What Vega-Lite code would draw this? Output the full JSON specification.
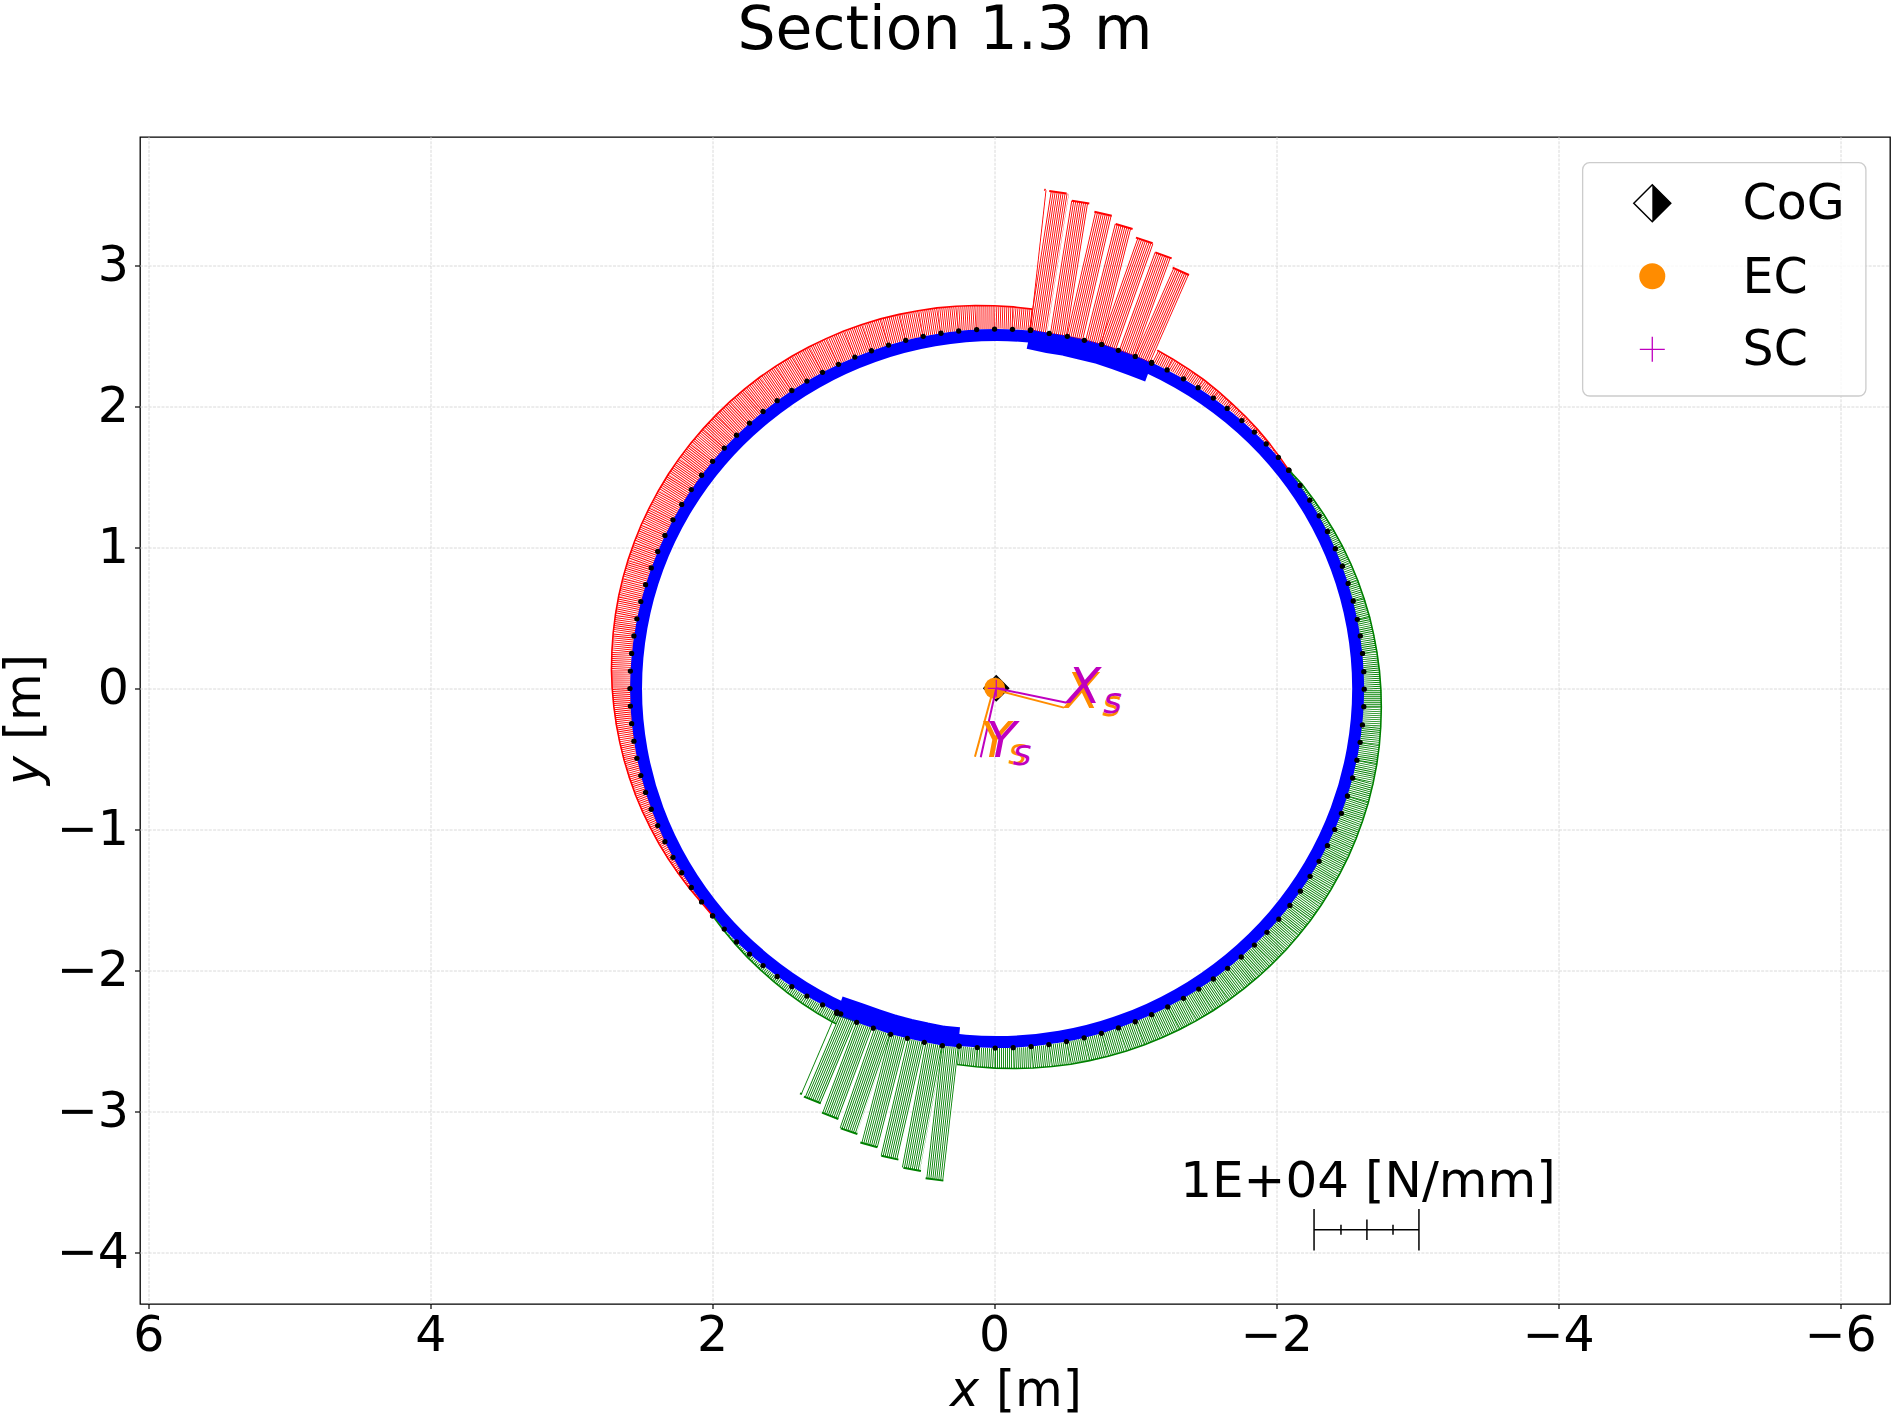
{"$schema":"https://vega.github.io/schema/vega-lite/v6.json","width":1750,"height":1167,"autosize":{"type":"none"},"padding":{"left":140,"top":137,"right":3,"bottom":109},"background":"white","title":{"text":"Section 1.3 m","font":"DejaVu Sans","fontSize":60,"fontWeight":"normal","color":"black","anchor":"middle","dx":-70,"offset":75},"config":{"view":{"stroke":"black","strokeWidth":1.3},"axis":{"domain":false,"translate":0,"labelFont":"DejaVu Sans","labelFontSize":49,"labelColor":"black","tickColor":"black","tickSize":5,"tickWidth":1.2,"gridColor":"#d0d0d0","gridDash":[3,1.3],"gridWidth":0.8,"title":null,"labelOverlap":false,"labelFlush":false}},
"datasets":{
"ring":[{"i":0,"x":-2.578,"y":0.005},{"i":1,"x":-2.539,"y":0.44},{"i":2,"x":-2.424,"y":0.862},{"i":3,"x":-2.235,"y":1.259},{"i":4,"x":-1.979,"y":1.617},{"i":5,"x":-1.663,"y":1.925},{"i":6,"x":-1.298,"y":2.176},{"i":7,"x":-0.893,"y":2.361},{"i":8,"x":-0.462,"y":2.474},{"i":9,"x":-0.017,"y":2.512},{"i":10,"x":0.428,"y":2.474},{"i":11,"x":0.859,"y":2.361},{"i":12,"x":1.264,"y":2.176},{"i":13,"x":1.629,"y":1.925},{"i":14,"x":1.945,"y":1.617},{"i":15,"x":2.201,"y":1.259},{"i":16,"x":2.39,"y":0.862},{"i":17,"x":2.505,"y":0.44},{"i":18,"x":2.544,"y":0.005},{"i":19,"x":2.505,"y":-0.43},{"i":20,"x":2.39,"y":-0.852},{"i":21,"x":2.201,"y":-1.249},{"i":22,"x":1.945,"y":-1.607},{"i":23,"x":1.629,"y":-1.915},{"i":24,"x":1.264,"y":-2.166},{"i":25,"x":0.859,"y":-2.351},{"i":26,"x":0.428,"y":-2.464},{"i":27,"x":-0.017,"y":-2.502},{"i":28,"x":-0.462,"y":-2.464},{"i":29,"x":-0.893,"y":-2.351},{"i":30,"x":-1.298,"y":-2.166},{"i":31,"x":-1.663,"y":-1.915},{"i":32,"x":-1.979,"y":-1.607},{"i":33,"x":-2.235,"y":-1.249},{"i":34,"x":-2.424,"y":-0.852},{"i":35,"x":-2.539,"y":-0.43}],
"sparCaps":[{"c":"top","i":0,"x":-0.242,"y":2.484},{"c":"top","i":1,"x":-0.378,"y":2.454},{"c":"top","i":2,"x":-0.501,"y":2.435},{"c":"top","i":3,"x":-0.619,"y":2.406},{"c":"top","i":4,"x":-0.737,"y":2.378},{"c":"top","i":5,"x":-0.853,"y":2.338},{"c":"top","i":6,"x":-0.971,"y":2.295},{"c":"top","i":7,"x":-1.092,"y":2.25},{"c":"bot","i":0,"x":1.102,"y":-2.246},{"c":"bot","i":1,"x":0.951,"y":-2.298},{"c":"bot","i":2,"x":0.837,"y":-2.338},{"c":"bot","i":3,"x":0.717,"y":-2.378},{"c":"bot","i":4,"x":0.603,"y":-2.407},{"c":"bot","i":5,"x":0.487,"y":-2.433},{"c":"bot","i":6,"x":0.364,"y":-2.457},{"c":"bot","i":7,"x":0.253,"y":-2.468}],
"nodes":[
{"i":0,"g":"r1","s":"T","nx":-0.253,"ny":2.545,"mx":-0.26,"my":2.62,"ox":-0.267,"oy":2.696,"q":2047},
{"i":1,"g":"r1","s":"T","nx":-0.126,"ny":2.553,"mx":-0.129,"my":2.633,"ox":-0.133,"oy":2.712,"q":2135},
{"i":2,"g":"r1","s":"T","nx":0.001,"ny":2.555,"mx":0.002,"my":2.638,"ox":0.003,"oy":2.72,"q":2220},
{"i":3,"g":"r1","s":"T","nx":0.128,"ny":2.551,"mx":0.133,"my":2.637,"ox":0.138,"oy":2.722,"q":2299},
{"i":4,"g":"r1","s":"T","nx":0.255,"ny":2.541,"mx":0.264,"my":2.629,"ox":0.274,"oy":2.717,"q":2373},
{"i":5,"g":"r1","s":"T","nx":0.381,"ny":2.525,"mx":0.395,"my":2.615,"ox":0.409,"oy":2.705,"q":2440},
{"i":6,"g":"r1","s":"T","nx":0.507,"ny":2.503,"mx":0.525,"my":2.594,"ox":0.544,"oy":2.685,"q":2503},
{"i":7,"g":"r1","s":"T","nx":0.631,"ny":2.475,"mx":0.654,"my":2.567,"ox":0.678,"oy":2.659,"q":2558},
{"i":8,"g":"r1","s":"T","nx":0.753,"ny":2.441,"mx":0.782,"my":2.534,"ox":0.81,"oy":2.627,"q":2609},
{"i":9,"g":"r1","s":"T","nx":0.874,"ny":2.401,"mx":0.907,"my":2.494,"ox":0.941,"oy":2.587,"q":2652},
{"i":10,"g":"r1","s":"T","nx":0.992,"ny":2.356,"mx":1.031,"my":2.448,"ox":1.07,"oy":2.541,"q":2690},
{"i":11,"g":"r1","s":"T","nx":1.108,"ny":2.305,"mx":1.152,"my":2.396,"ox":1.196,"oy":2.487,"q":2721},
{"i":12,"g":"r1","s":"T","nx":1.221,"ny":2.248,"mx":1.27,"my":2.338,"ox":1.319,"oy":2.428,"q":2746},
{"i":13,"g":"r1","s":"T","nx":1.332,"ny":2.186,"mx":1.385,"my":2.274,"ox":1.439,"oy":2.362,"q":2764},
{"i":14,"g":"r1","s":"T","nx":1.439,"ny":2.119,"mx":1.497,"my":2.204,"ox":1.555,"oy":2.29,"q":2774},
{"i":15,"g":"r1","s":"T","nx":1.543,"ny":2.047,"mx":1.605,"my":2.13,"ox":1.667,"oy":2.213,"q":2780},
{"i":16,"g":"r1","s":"T","nx":1.643,"ny":1.97,"mx":1.709,"my":2.05,"ox":1.775,"oy":2.129,"q":2778},
{"i":17,"g":"r1","s":"T","nx":1.739,"ny":1.888,"mx":1.808,"my":1.964,"ox":1.878,"oy":2.04,"q":2769},
{"i":18,"g":"r1","s":"T","nx":1.831,"ny":1.802,"mx":1.904,"my":1.874,"ox":1.976,"oy":1.946,"q":2754},
{"i":19,"g":"r1","s":"T","nx":1.918,"ny":1.711,"mx":1.994,"my":1.779,"ox":2.069,"oy":1.847,"q":2733},
{"i":20,"g":"r1","s":"T","nx":2.001,"ny":1.617,"mx":2.079,"my":1.68,"ox":2.157,"oy":1.744,"q":2705},
{"i":21,"g":"r1","s":"T","nx":2.079,"ny":1.518,"mx":2.159,"my":1.577,"ox":2.239,"oy":1.636,"q":2670},
{"i":22,"g":"r1","s":"T","nx":2.152,"ny":1.416,"mx":2.233,"my":1.47,"ox":2.315,"oy":1.525,"q":2628},
{"i":23,"g":"r1","s":"T","nx":2.22,"ny":1.311,"mx":2.302,"my":1.36,"ox":2.385,"oy":1.409,"q":2581},
{"i":24,"g":"r1","s":"T","nx":2.282,"ny":1.202,"mx":2.365,"my":1.246,"ox":2.448,"oy":1.291,"q":2527},
{"i":25,"g":"r1","s":"T","nx":2.339,"ny":1.091,"mx":2.422,"my":1.13,"ox":2.506,"oy":1.169,"q":2468},
{"i":26,"g":"r1","s":"T","nx":2.39,"ny":0.977,"mx":2.473,"my":1.011,"ox":2.556,"oy":1.045,"q":2402},
{"i":27,"g":"r1","s":"T","nx":2.436,"ny":0.861,"mx":2.518,"my":0.89,"ox":2.6,"oy":0.919,"q":2331},
{"i":28,"g":"r1","s":"T","nx":2.476,"ny":0.742,"mx":2.556,"my":0.766,"ox":2.637,"oy":0.79,"q":2255},
{"i":29,"g":"r1","s":"T","nx":2.51,"ny":0.622,"mx":2.588,"my":0.641,"ox":2.667,"oy":0.661,"q":2173},
{"i":30,"g":"r1","s":"T","nx":2.538,"ny":0.5,"mx":2.614,"my":0.515,"ox":2.69,"oy":0.53,"q":2086},
{"i":31,"g":"r1","s":"T","nx":2.559,"ny":0.378,"mx":2.632,"my":0.388,"ox":2.706,"oy":0.399,"q":1993},
{"i":32,"g":"r1","s":"T","nx":2.575,"ny":0.254,"mx":2.645,"my":0.261,"ox":2.715,"oy":0.268,"q":1896},
{"i":33,"g":"r1","s":"T","nx":2.584,"ny":0.129,"mx":2.651,"my":0.133,"ox":2.718,"oy":0.136,"q":1794},
{"i":34,"g":"r1","s":"T","nx":2.587,"ny":0.005,"mx":2.65,"my":0.005,"ox":2.713,"oy":0.005,"q":1688},
{"i":35,"g":"r1","s":"T","nx":2.584,"ny":-0.119,"mx":2.643,"my":-0.122,"ox":2.701,"oy":-0.125,"q":1578},
{"i":36,"g":"r1","s":"T","nx":2.575,"ny":-0.244,"mx":2.629,"my":-0.249,"ox":2.683,"oy":-0.255,"q":1465},
{"i":37,"g":"r1","s":"T","nx":2.559,"ny":-0.368,"mx":2.609,"my":-0.375,"ox":2.658,"oy":-0.382,"q":1348},
{"i":38,"g":"r1","s":"T","nx":2.538,"ny":-0.49,"mx":2.583,"my":-0.499,"ox":2.627,"oy":-0.508,"q":1227},
{"i":39,"g":"r1","s":"T","nx":2.51,"ny":-0.612,"mx":2.549,"my":-0.622,"ox":2.589,"oy":-0.632,"q":1104},
{"i":40,"g":"r1","s":"T","nx":2.476,"ny":-0.732,"mx":2.511,"my":-0.742,"ox":2.546,"oy":-0.753,"q":978},
{"i":41,"g":"r1","s":"T","nx":2.436,"ny":-0.851,"mx":2.466,"my":-0.861,"ox":2.496,"oy":-0.872,"q":850},
{"i":42,"g":"r1","s":"T","nx":2.39,"ny":-0.967,"mx":2.415,"my":-0.977,"ox":2.44,"oy":-0.987,"q":720},
{"i":43,"g":"r1","s":"T","nx":2.339,"ny":-1.081,"mx":2.359,"my":-1.09,"ox":2.379,"oy":-1.1,"q":587},
{"i":44,"g":"r1","s":"T","nx":2.282,"ny":-1.192,"mx":2.297,"my":-1.2,"ox":2.312,"oy":-1.208,"q":454},
{"i":45,"g":"r1","s":"T","nx":2.22,"ny":-1.301,"mx":2.23,"my":-1.307,"ox":2.24,"oy":-1.313,"q":320},
{"i":46,"g":"r1","s":"T","nx":2.152,"ny":-1.406,"mx":2.158,"my":-1.41,"ox":2.163,"oy":-1.414,"q":184},
{"i":47,"g":"r1","s":"T","nx":2.079,"ny":-1.508,"mx":2.081,"my":-1.509,"ox":2.082,"oy":-1.51,"q":48},
{"i":48,"g":"r1","s":"T","nx":2.001,"ny":-1.607,"mx":2.001,"my":-1.607,"ox":2.001,"oy":-1.607,"q":0},
{"i":0,"g":"g1","s":"C","nx":2.001,"ny":-1.607,"mx":2.001,"my":-1.607,"ox":2.001,"oy":-1.607,"q":0},
{"i":1,"g":"g1","s":"C","nx":1.918,"ny":-1.701,"mx":1.921,"my":-1.704,"ox":1.924,"oy":-1.707,"q":113},
{"i":2,"g":"g1","s":"C","nx":1.831,"ny":-1.792,"mx":1.837,"my":-1.798,"ox":1.843,"oy":-1.804,"q":234},
{"i":3,"g":"g1","s":"C","nx":1.739,"ny":-1.878,"mx":1.748,"my":-1.888,"ox":1.757,"oy":-1.898,"q":355},
{"i":4,"g":"g1","s":"C","nx":1.643,"ny":-1.96,"mx":1.654,"my":-1.974,"ox":1.665,"oy":-1.987,"q":474},
{"i":5,"g":"g1","s":"C","nx":1.543,"ny":-2.037,"mx":1.556,"my":-2.054,"ox":1.569,"oy":-2.072,"q":592},
{"i":6,"g":"g1","s":"C","nx":1.439,"ny":-2.109,"mx":1.454,"my":-2.131,"ox":1.469,"oy":-2.153,"q":710},
{"i":7,"g":"g1","s":"C","nx":1.332,"ny":-2.176,"mx":1.348,"my":-2.203,"ox":1.364,"oy":-2.229,"q":826},
{"i":8,"g":"g1","s":"C","nx":1.221,"ny":-2.238,"mx":1.238,"my":-2.269,"ox":1.255,"oy":-2.3,"q":939},
{"i":9,"g":"g1","s":"C","nx":1.12,"ny":-2.289,"mx":1.137,"my":-2.324,"ox":1.154,"oy":-2.358,"q":1038},
{"i":10,"g":"g1","s":"C","nx":1.092,"ny":-2.302,"mx":1.108,"my":-2.338,"ox":1.125,"oy":-2.372,"q":1050},
{"i":0,"g":"g2","s":"C","nx":0.253,"ny":-2.531,"mx":0.26,"my":-2.596,"ox":0.267,"oy":-2.661,"q":1746},
{"i":1,"g":"g2","s":"C","nx":0.124,"ny":-2.541,"mx":0.128,"my":-2.609,"ox":0.131,"oy":-2.677,"q":1832},
{"i":2,"g":"g2","s":"C","nx":-0.003,"ny":-2.545,"mx":-0.003,"my":-2.616,"ox":-0.003,"oy":-2.687,"q":1911},
{"i":3,"g":"g2","s":"C","nx":-0.131,"ny":-2.542,"mx":-0.134,"my":-2.616,"ox":-0.137,"oy":-2.69,"q":1986},
{"i":4,"g":"g2","s":"C","nx":-0.258,"ny":-2.534,"mx":-0.265,"my":-2.611,"ox":-0.272,"oy":-2.686,"q":2057},
{"i":5,"g":"g2","s":"C","nx":-0.384,"ny":-2.52,"mx":-0.395,"my":-2.598,"ox":-0.406,"oy":-2.676,"q":2123},
{"i":6,"g":"g2","s":"C","nx":-0.509,"ny":-2.499,"mx":-0.525,"my":-2.579,"ox":-0.54,"oy":-2.659,"q":2184},
{"i":7,"g":"g2","s":"C","nx":-0.634,"ny":-2.472,"mx":-0.653,"my":-2.553,"ox":-0.673,"oy":-2.634,"q":2239},
{"i":8,"g":"g2","s":"C","nx":-0.757,"ny":-2.44,"mx":-0.781,"my":-2.522,"ox":-0.805,"oy":-2.603,"q":2289},
{"i":9,"g":"g2","s":"C","nx":-0.878,"ny":-2.402,"mx":-0.906,"my":-2.484,"ox":-0.935,"oy":-2.566,"q":2333},
{"i":10,"g":"g2","s":"C","nx":-0.997,"ny":-2.358,"mx":-1.03,"my":-2.439,"ox":-1.063,"oy":-2.522,"q":2372},
{"i":11,"g":"g2","s":"C","nx":-1.113,"ny":-2.308,"mx":-1.151,"my":-2.39,"ox":-1.189,"oy":-2.47,"q":2405},
{"i":12,"g":"g2","s":"C","nx":-1.227,"ny":-2.253,"mx":-1.27,"my":-2.333,"ox":-1.312,"oy":-2.413,"q":2433},
{"i":13,"g":"g2","s":"C","nx":-1.339,"ny":-2.192,"mx":-1.385,"my":-2.271,"ox":-1.431,"oy":-2.35,"q":2455},
{"i":14,"g":"g2","s":"C","nx":-1.447,"ny":-2.126,"mx":-1.497,"my":-2.203,"ox":-1.548,"oy":-2.28,"q":2470},
{"i":15,"g":"g2","s":"C","nx":-1.551,"ny":-2.055,"mx":-1.606,"my":-2.13,"ox":-1.66,"oy":-2.205,"q":2480},
{"i":16,"g":"g2","s":"C","nx":-1.652,"ny":-1.979,"mx":-1.71,"my":-2.051,"ox":-1.768,"oy":-2.123,"q":2484},
{"i":17,"g":"g2","s":"C","nx":-1.749,"ny":-1.899,"mx":-1.811,"my":-1.968,"ox":-1.872,"oy":-2.037,"q":2483},
{"i":18,"g":"g2","s":"C","nx":-1.842,"ny":-1.814,"mx":-1.907,"my":-1.88,"ox":-1.971,"oy":-1.945,"q":2475},
{"i":19,"g":"g2","s":"C","nx":-1.931,"ny":-1.724,"mx":-1.998,"my":-1.787,"ox":-2.065,"oy":-1.849,"q":2460},
{"i":20,"g":"g2","s":"C","nx":-2.015,"ny":-1.631,"mx":-2.085,"my":-1.689,"ox":-2.154,"oy":-1.747,"q":2441},
{"i":21,"g":"g2","s":"C","nx":-2.094,"ny":-1.533,"mx":-2.166,"my":-1.587,"ox":-2.238,"oy":-1.642,"q":2416},
{"i":22,"g":"g2","s":"C","nx":-2.168,"ny":-1.432,"mx":-2.242,"my":-1.482,"ox":-2.315,"oy":-1.532,"q":2385},
{"i":23,"g":"g2","s":"C","nx":-2.237,"ny":-1.327,"mx":-2.311,"my":-1.373,"ox":-2.386,"oy":-1.419,"q":2347},
{"i":24,"g":"g2","s":"C","nx":-2.301,"ny":-1.22,"mx":-2.376,"my":-1.261,"ox":-2.451,"oy":-1.302,"q":2305},
{"i":25,"g":"g2","s":"C","nx":-2.36,"ny":-1.109,"mx":-2.435,"my":-1.146,"ox":-2.511,"oy":-1.182,"q":2257},
{"i":26,"g":"g2","s":"C","nx":-2.412,"ny":-0.995,"mx":-2.488,"my":-1.028,"ox":-2.563,"oy":-1.06,"q":2204},
{"i":27,"g":"g2","s":"C","nx":-2.459,"ny":-0.88,"mx":-2.534,"my":-0.907,"ox":-2.609,"oy":-0.935,"q":2145},
{"i":28,"g":"g2","s":"C","nx":-2.502,"ny":-0.757,"mx":-2.575,"my":-0.78,"ox":-2.65,"oy":-0.804,"q":2079},
{"i":29,"g":"g2","s":"C","nx":-2.539,"ny":-0.629,"mx":-2.612,"my":-0.648,"ox":-2.684,"oy":-0.666,"q":2005},
{"i":30,"g":"g2","s":"C","nx":-2.569,"ny":-0.503,"mx":-2.639,"my":-0.518,"ox":-2.71,"oy":-0.532,"q":1928},
{"i":31,"g":"g2","s":"C","nx":-2.592,"ny":-0.376,"mx":-2.66,"my":-0.387,"ox":-2.728,"oy":-0.397,"q":1846},
{"i":32,"g":"g2","s":"C","nx":-2.608,"ny":-0.253,"mx":-2.673,"my":-0.259,"ox":-2.738,"oy":-0.266,"q":1763},
{"i":33,"g":"g2","s":"C","nx":-2.618,"ny":-0.124,"mx":-2.68,"my":-0.127,"ox":-2.742,"oy":-0.13,"q":1672},
{"i":34,"g":"g2","s":"C","nx":-2.621,"ny":0.001,"mx":-2.68,"my":0.001,"ox":-2.739,"oy":0,"q":1581},
{"i":35,"g":"g2","s":"C","nx":-2.618,"ny":0.125,"mx":-2.673,"my":0.128,"ox":-2.729,"oy":0.13,"q":1485},
{"i":36,"g":"g2","s":"C","nx":-2.609,"ny":0.254,"mx":-2.66,"my":0.259,"ox":-2.711,"oy":0.264,"q":1382},
{"i":37,"g":"g2","s":"C","nx":-2.593,"ny":0.378,"mx":-2.64,"my":0.385,"ox":-2.687,"oy":0.391,"q":1280},
{"i":38,"g":"g2","s":"C","nx":-2.572,"ny":0.496,"mx":-2.615,"my":0.504,"ox":-2.659,"oy":0.513,"q":1178},
{"i":39,"g":"g2","s":"C","nx":-2.543,"ny":0.626,"mx":-2.581,"my":0.636,"ox":-2.619,"oy":0.645,"q":1062},
{"i":40,"g":"g2","s":"C","nx":-2.507,"ny":0.751,"mx":-2.541,"my":0.761,"ox":-2.575,"oy":0.771,"q":947},
{"i":41,"g":"g2","s":"C","nx":-2.466,"ny":0.873,"mx":-2.495,"my":0.884,"ox":-2.524,"oy":0.894,"q":830},
{"i":42,"g":"g2","s":"C","nx":-2.416,"ny":0.997,"mx":-2.44,"my":1.007,"ox":-2.464,"oy":1.018,"q":705},
{"i":43,"g":"g2","s":"C","nx":-2.36,"ny":1.119,"mx":-2.379,"my":1.128,"ox":-2.398,"oy":1.138,"q":580},
{"i":44,"g":"g2","s":"C","nx":-2.301,"ny":1.23,"mx":-2.316,"my":1.238,"ox":-2.331,"oy":1.246,"q":462},
{"i":45,"g":"g2","s":"C","nx":-2.235,"ny":1.341,"mx":-2.246,"my":1.348,"ox":-2.256,"oy":1.354,"q":337},
{"i":46,"g":"g2","s":"C","nx":-2.166,"ny":1.446,"mx":-2.172,"my":1.45,"ox":-2.179,"oy":1.455,"q":216},
{"i":47,"g":"g2","s":"C","nx":-2.086,"ny":1.554,"mx":-2.086,"my":1.554,"ox":-2.086,"oy":1.554,"q":0},
{"i":0,"g":"r2","s":"T","nx":-2.086,"ny":1.554,"mx":-2.086,"my":1.554,"ox":-2.086,"oy":1.554,"q":0},
{"i":1,"g":"r2","s":"T","nx":-2.012,"ny":1.644,"mx":-2.015,"my":1.647,"ox":-2.019,"oy":1.65,"q":126},
{"i":2,"g":"r2","s":"T","nx":-1.926,"ny":1.74,"mx":-1.933,"my":1.746,"ox":-1.941,"oy":1.753,"q":265},
{"i":3,"g":"r2","s":"T","nx":-1.842,"ny":1.824,"mx":-1.853,"my":1.835,"ox":-1.863,"oy":1.845,"q":392},
{"i":4,"g":"r2","s":"T","nx":-1.753,"ny":1.906,"mx":-1.765,"my":1.92,"ox":-1.779,"oy":1.935,"q":521},
{"i":5,"g":"r2","s":"T","nx":-1.649,"ny":1.992,"mx":-1.664,"my":2.012,"ox":-1.679,"oy":2.03,"q":663},
{"i":6,"g":"r2","s":"T","nx":-1.551,"ny":2.065,"mx":-1.568,"my":2.089,"ox":-1.586,"oy":2.113,"q":790},
{"i":7,"g":"r2","s":"T","nx":-1.443,"ny":2.139,"mx":-1.462,"my":2.167,"ox":-1.481,"oy":2.197,"q":924},
{"i":8,"g":"r2","s":"T","nx":-1.339,"ny":2.202,"mx":-1.358,"my":2.236,"ox":-1.378,"oy":2.269,"q":1046},
{"i":9,"g":"r2","s":"T","nx":-1.223,"ny":2.265,"mx":-1.244,"my":2.304,"ox":-1.264,"oy":2.342,"q":1175},
{"i":10,"g":"r2","s":"T","nx":-1.113,"ny":2.318,"mx":-1.133,"my":2.361,"ox":-1.153,"oy":2.404,"q":1282}],
"bigPanels":[
{"s":"T","x":-0.321,"y":3.041,"x2":-0.449,"y2":3.021,"ox":-0.387,"oy":3.534,"ox2":-0.51,"oy2":3.517,"q":13400,"nx":-0.387,"ny":2.524},
{"s":"T","x":-0.468,"y":2.995,"x2":-0.593,"y2":2.975,"ox":-0.548,"oy":3.465,"ox2":-0.671,"oy2":3.446,"q":12820,"nx":-0.515,"ny":2.503},
{"s":"T","x":-0.611,"y":2.945,"x2":-0.733,"y2":2.917,"ox":-0.707,"oy":3.387,"ox2":-0.83,"oy2":3.359,"q":12150,"nx":-0.636,"ny":2.475},
{"s":"T","x":-0.747,"y":2.887,"x2":-0.869,"y2":2.856,"ox":-0.858,"oy":3.3,"ox2":-0.978,"oy2":3.264,"q":11470,"nx":-0.759,"ny":2.446},
{"s":"T","x":-0.88,"y":2.825,"x2":-0.999,"y2":2.783,"ox":-1.002,"oy":3.203,"ox2":-1.12,"oy2":3.163,"q":10670,"nx":-0.877,"ny":2.404},
{"s":"T","x":-1.008,"y":2.751,"x2":-1.126,"y2":2.708,"ox":-1.139,"oy":3.099,"ox2":-1.255,"oy2":3.056,"q":9970,"nx":-0.997,"ny":2.361},
{"s":"T","x":-1.13,"y":2.676,"x2":-1.246,"y2":2.625,"ox":-1.262,"oy":2.99,"ox2":-1.378,"oy2":2.938,"q":9160,"nx":-1.113,"ny":2.312},
{"s":"T","x":-0.306,"y":3.047,"x2":-0.315,"y2":3.046,"ox":-0.352,"oy":3.545,"ox2":-0.36,"oy2":3.54,"q":13300,"nx":-0.255,"ny":2.548},
{"s":"C","x":1.223,"y":-2.6,"x2":1.107,"y2":-2.649,"ox":1.353,"oy":-2.889,"ox2":1.234,"oy2":-2.936,"q":8530,"nx":0.979,"ny":-2.362},
{"s":"C","x":1.102,"y":-2.682,"x2":0.985,"y2":-2.726,"ox":1.225,"oy":-3.003,"ox2":1.109,"oy2":-3.048,"q":9220,"nx":0.861,"ny":-2.404},
{"s":"C","x":0.977,"y":-2.759,"x2":0.856,"y2":-2.801,"ox":1.092,"oy":-3.114,"ox2":0.974,"oy2":-3.154,"q":10020,"nx":0.738,"ny":-2.447},
{"s":"C","x":0.845,"y":-2.831,"x2":0.726,"y2":-2.862,"ox":0.953,"oy":-3.215,"ox2":0.832,"oy2":-3.248,"q":10720,"nx":0.62,"ny":-2.476},
{"s":"C","x":0.712,"y":-2.892,"x2":0.591,"y2":-2.92,"ox":0.804,"oy":-3.308,"ox2":0.683,"oy2":-3.336,"q":11450,"nx":0.499,"ny":-2.504},
{"s":"C","x":0.574,"y":-2.948,"x2":0.447,"y2":-2.972,"ox":0.648,"oy":-3.393,"ox2":0.523,"oy2":-3.417,"q":12100,"nx":0.371,"ny":-2.528},
{"s":"C","x":0.43,"y":-2.998,"x2":0.309,"y2":-3.012,"ox":0.49,"oy":-3.468,"ox2":0.364,"oy2":-3.485,"q":12730,"nx":0.253,"ny":-2.531},
{"s":"C","x":1.251,"y":-2.582,"x2":1.244,"y2":-2.585,"ox":1.381,"oy":-2.866,"ox2":1.367,"oy2":-2.871,"q":8380,"nx":1.121,"ny":-2.298}],
"axesLines":[
{"c":"EC","a":"X","x":0.01,"y":0,"x2":-0.491,"y2":-0.13},{"c":"EC","a":"Y","x":0.01,"y":0,"x2":0.14,"y2":-0.478},
{"c":"SC","a":"X","x":-0.011,"y":0.007,"x2":-0.511,"y2":-0.095},{"c":"SC","a":"Y","x":-0.011,"y":0.007,"x2":0.099,"y2":-0.482}],
"axesText":[
{"c":"EC","t":"X","x":-0.499,"y":-0.135,"sx":-0.763,"sy":-0.189},{"c":"EC","t":"Y","x":0.104,"y":-0.478,"sx":-0.097,"sy":-0.53},
{"c":"SC","t":"X","x":-0.511,"y":-0.099,"sx":-0.77,"sy":-0.166},{"c":"SC","t":"Y","x":0.062,"y":-0.478,"sx":-0.128,"sy":-0.537}],
"scaleBar":[
{"x":-2.265,"x2":-3.009,"y":-3.833,"y2":-3.833},{"x":-2.265,"x2":-2.265,"y":-3.686,"y2":-3.98},{"x":-3.009,"x2":-3.009,"y":-3.686,"y2":-3.98},{"x":-2.64,"x2":-2.64,"y":-3.76,"y2":-3.906},{"x":-2.456,"x2":-2.456,"y":-3.798,"y2":-3.868},{"x":-2.825,"x2":-2.825,"y":-3.798,"y2":-3.868}],
"legendItems":[{"t":"CoG","x":-4.664,"y":3.447,"tx":-5.304,"ty":3.332},{"t":"EC","x":-4.664,"y":2.929,"tx":-5.304,"ty":2.808},{"t":"SC","x":-4.664,"y":2.411,"tx":-5.304,"ty":2.297}]},
"layer":[
{"data":{"name":"ring"},"mark":{"type":"line","interpolate":"cardinal-closed","color":"#0000ff","strokeWidth":12},"encoding":{"x":{"field":"x","type":"quantitative","title":null,"scale":{"domain":[6.062,-6.35],"nice":false,"zero":false},"axis":{"values":[6,4,2,0,-2,-4,-6],"format":"d","labelPadding":3,"title":null}},"y":{"field":"y","type":"quantitative","title":null,"scale":{"domain":[-4.36,3.917],"nice":false,"zero":false},"axis":{"values":[-4,-3,-2,-1,0,1,2,3],"format":"d","labelPadding":6,"title":null}},"order":{"field":"i"}}},
{"data":{"name":"sparCaps"},"mark":{"type":"line","color":"#0000ff","strokeWidth":20,"strokeCap":"butt"},"encoding":{"x":{"field":"x","type":"quantitative","title":null},"y":{"field":"y","type":"quantitative","title":null},"detail":{"field":"c"},"order":{"field":"i"}}},
{"data":{"name":"nodes"},"transform":[{"window":[{"op":"lead","field":"mx","as":"mx2"},{"op":"lead","field":"my","as":"my2"}],"sort":[{"field":"i"}],"groupby":["g"]},{"filter":{"field":"mx2","valid":true}}],"mark":{"type":"rule","strokeDash":[0.9,1.1]},"encoding":{"x":{"field":"mx","type":"quantitative","title":null},"y":{"field":"my","type":"quantitative","title":null},"x2":{"field":"mx2"},"y2":{"field":"my2"},"size":{"field":"q","type":"quantitative","legend":null,"scale":{"domain":[0,10000],"range":[0,105]}},"color":{"field":"s","type":"nominal","legend":null,"scale":{"domain":["T","C","EC","SC"],"range":["#ff0000","#008000","#ff8c00","#bf00bf"]}}}},
{"data":{"name":"bigPanels"},"mark":{"type":"rule","strokeDash":[0.9,1.1]},"encoding":{"x":{"field":"x","type":"quantitative","title":null},"y":{"field":"y","type":"quantitative","title":null},"x2":{"field":"x2"},"y2":{"field":"y2"},"size":{"field":"q","type":"quantitative","legend":null},"color":{"field":"s","type":"nominal","legend":null}}},
{"data":{"name":"bigPanels"},"mark":{"type":"rule","strokeWidth":2},"encoding":{"x":{"field":"ox","type":"quantitative","title":null},"y":{"field":"oy","type":"quantitative","title":null},"x2":{"field":"ox2"},"y2":{"field":"oy2"},"color":{"field":"s","type":"nominal","legend":null}}},
{"data":{"name":"nodes"},"mark":{"type":"line","strokeWidth":1.6},"encoding":{"x":{"field":"ox","type":"quantitative","title":null},"y":{"field":"oy","type":"quantitative","title":null},"detail":{"field":"g"},"order":{"field":"i"},"color":{"field":"s","type":"nominal","legend":null}}},
{"data":{"name":"nodes"},"mark":{"type":"point","filled":true,"opacity":1,"color":"black","size":28},"encoding":{"x":{"field":"nx","type":"quantitative","title":null},"y":{"field":"ny","type":"quantitative","title":null}}},
{"data":{"name":"bigPanels"},"mark":{"type":"point","filled":true,"opacity":1,"color":"black","size":28},"encoding":{"x":{"field":"nx","type":"quantitative","title":null},"y":{"field":"ny","type":"quantitative","title":null}}},
{"data":{"values":[{"x":-0.011,"y":0.007}]},"mark":{"type":"point","shape":"diamond","filled":true,"fill":"white","stroke":"black","strokeWidth":1.5,"opacity":1,"size":610},"encoding":{"x":{"field":"x","type":"quantitative","title":null},"y":{"field":"y","type":"quantitative","title":null}}},
{"data":{"values":[{"x":-0.011,"y":0.007}]},"mark":{"type":"point","shape":"M0,-1L1,0L0,1Z","filled":true,"color":"black","opacity":1,"size":610},"encoding":{"x":{"field":"x","type":"quantitative","title":null},"y":{"field":"y","type":"quantitative","title":null}}},
{"data":{"values":[{"x":0.0,"y":0.007}]},"mark":{"type":"point","shape":"circle","filled":true,"color":"#ff8c00","opacity":1,"size":441},"encoding":{"x":{"field":"x","type":"quantitative","title":null},"y":{"field":"y","type":"quantitative","title":null}}},
{"data":{"name":"axesLines"},"mark":{"type":"rule","strokeWidth":2},"encoding":{"x":{"field":"x","type":"quantitative","title":null},"y":{"field":"y","type":"quantitative","title":null},"x2":{"field":"x2"},"y2":{"field":"y2"},"color":{"field":"c","type":"nominal","legend":null}}},
{"data":{"name":"axesText"},"mark":{"type":"text","font":"DejaVu Sans","fontStyle":"italic","fontSize":50,"align":"left","baseline":"alphabetic"},"encoding":{"x":{"field":"x","type":"quantitative","title":null},"y":{"field":"y","type":"quantitative","title":null},"text":{"field":"t"},"color":{"field":"c","type":"nominal","legend":null}}},
{"data":{"name":"axesText"},"mark":{"type":"text","font":"DejaVu Sans","fontStyle":"italic","fontSize":36,"align":"left","baseline":"alphabetic","text":"s"},"encoding":{"x":{"field":"sx","type":"quantitative","title":null},"y":{"field":"sy","type":"quantitative","title":null},"color":{"field":"c","type":"nominal","legend":null}}},
{"data":{"values":[{"x":-0.011,"y":0.007}]},"mark":{"type":"point","shape":"M-1,0L1,0M0,-1L0,1","stroke":"#bf00bf","strokeWidth":1.2,"filled":false,"opacity":1,"size":289},"encoding":{"x":{"field":"x","type":"quantitative","title":null},"y":{"field":"y","type":"quantitative","title":null}}},
{"data":{"name":"scaleBar"},"mark":{"type":"rule","color":"black","strokeWidth":1.5},"encoding":{"x":{"field":"x","type":"quantitative","title":null},"y":{"field":"y","type":"quantitative","title":null},"x2":{"field":"x2"},"y2":{"field":"y2"}}},
{"data":{"values":[{"t":"1E+04 [N/mm]","x":-2.647,"y":-3.599}]},"mark":{"type":"text","font":"DejaVu Sans","fontSize":50,"align":"center","baseline":"alphabetic","color":"black"},"encoding":{"x":{"field":"x","type":"quantitative","title":null},"y":{"field":"y","type":"quantitative","title":null},"text":{"field":"t"}}},
{"data":{"values":[{"x":-4.17,"x2":-6.179,"y":3.735,"y2":2.08}]},"mark":{"type":"rect","fill":"white","fillOpacity":0.8,"stroke":"#cccccc","strokeWidth":1.3,"cornerRadius":7},"encoding":{"x":{"field":"x","type":"quantitative","title":null},"y":{"field":"y","type":"quantitative","title":null},"x2":{"field":"x2"},"y2":{"field":"y2"}}},
{"data":{"values":[{"x":-4.664,"y":3.447}]},"mark":{"type":"point","shape":"diamond","filled":true,"fill":"white","stroke":"black","strokeWidth":1.5,"opacity":1,"size":1369},"encoding":{"x":{"field":"x","type":"quantitative","title":null},"y":{"field":"y","type":"quantitative","title":null}}},
{"data":{"values":[{"x":-4.664,"y":3.447}]},"mark":{"type":"point","shape":"M0,-1L1,0L0,1Z","filled":true,"color":"black","opacity":1,"size":1369},"encoding":{"x":{"field":"x","type":"quantitative","title":null},"y":{"field":"y","type":"quantitative","title":null}}},
{"data":{"values":[{"x":-4.664,"y":2.929}]},"mark":{"type":"point","shape":"circle","filled":true,"color":"#ff8c00","opacity":1,"size":676},"encoding":{"x":{"field":"x","type":"quantitative","title":null},"y":{"field":"y","type":"quantitative","title":null}}},
{"data":{"values":[{"x":-4.664,"y":2.411}]},"mark":{"type":"point","shape":"M-1,0L1,0M0,-1L0,1","stroke":"#bf00bf","strokeWidth":1.3,"filled":false,"opacity":1,"size":625},"encoding":{"x":{"field":"x","type":"quantitative","title":null},"y":{"field":"y","type":"quantitative","title":null}}},
{"data":{"name":"legendItems"},"mark":{"type":"text","font":"DejaVu Sans","fontSize":49,"align":"left","baseline":"alphabetic","color":"black"},"encoding":{"x":{"field":"tx","type":"quantitative","title":null},"y":{"field":"ty","type":"quantitative","title":null},"text":{"field":"t"}}},
{"data":{"values":[{"t":"x","x":0.317,"y":-5.083}]},"mark":{"type":"text","font":"DejaVu Sans","fontStyle":"italic","fontSize":49,"align":"left","baseline":"alphabetic","color":"black"},"encoding":{"x":{"field":"x","type":"quantitative","title":null},"y":{"field":"y","type":"quantitative","title":null},"text":{"field":"t"}}},
{"data":{"values":[{"t":"[m]","x":-0.009,"y":-5.083}]},"mark":{"type":"text","font":"DejaVu Sans","fontSize":49,"align":"left","baseline":"alphabetic","color":"black"},"encoding":{"x":{"field":"x","type":"quantitative","title":null},"y":{"field":"y","type":"quantitative","title":null},"text":{"field":"t"}}},
{"data":{"values":[{"t":"y","x":6.771,"y":-0.679}]},"mark":{"type":"text","font":"DejaVu Sans","fontStyle":"italic","fontSize":49,"align":"left","baseline":"alphabetic","angle":270,"color":"black"},"encoding":{"x":{"field":"x","type":"quantitative","title":null},"y":{"field":"y","type":"quantitative","title":null},"text":{"field":"t"}}},
{"data":{"values":[{"t":"[m]","x":6.771,"y":-0.36}]},"mark":{"type":"text","font":"DejaVu Sans","fontSize":49,"align":"left","baseline":"alphabetic","angle":270,"color":"black"},"encoding":{"x":{"field":"x","type":"quantitative","title":null},"y":{"field":"y","type":"quantitative","title":null},"text":{"field":"t"}}}
]}
